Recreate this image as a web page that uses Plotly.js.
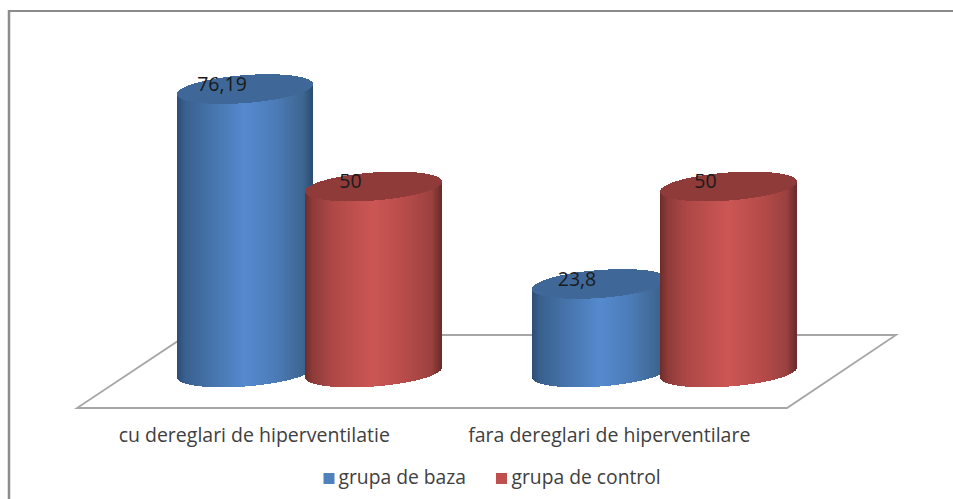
<!DOCTYPE html>
<html><head><meta charset="utf-8">
<script src="https://cdn.plot.ly/plotly-3.0.1.min.js"></script>
<style>html,body{margin:0;padding:0;background:#fff}#c{width:953px;height:499px}</style>
</head><body><div id="c"></div>
<script>
// Data
const categories = ["cu dereglari de hiperventilatie", "fara dereglari de hiperventilare"];
const grupaDeBaza = [76.19, 23.8];
const grupaDeControl = [50, 50];
const labelsBaza = ["76,19", "23,8"];
const labelsControl = ["50", "50"];
const seriesNames = ["grupa de baza", "grupa de control"];

// Geometry (pixels per unit of the axes)
const W = 953, H = 499, axisPx = 412, pxY = 3.72, zeroPx = 372.5;
const pxX = 355, cat0Px = 309.25;
const yRange = [(zeroPx - H) / pxY, zeroPx / pxY];
const xRange = [-cat0Px / pxX, (W - cat0Px) / pxX];
const fx = p => (p - cat0Px) / pxX, fy = p => (zeroPx - p) / pxY;
const halfGap = 64.25 / pxX;      // cylinder centre offset from category centre
const radius = 68 / pxX;          // cylinder half width
const capB = 14 / pxY, capS = 5 / pxY;  // ellipse half height and tilt
const N = 136;

function mix(stops, t) {
  for (let i = 1; i < stops.length; i++) {
    if (t <= stops[i][0]) {
      const a = stops[i - 1], b = stops[i], f = (t - a[0]) / (b[0] - a[0]);
      const c = [1, 2, 3].map(k => Math.round(a[k] + (b[k] - a[k]) * f));
      return `rgb(${c[0]},${c[1]},${c[2]})`;
    }
  }
  const l = stops[stops.length - 1];
  return `rgb(${l[1]},${l[2]},${l[3]})`;
}
const blueStops = [[0,44,77,117],[0.06,57,96,143],[0.25,70,115,170],[0.5,85,138,207],[0.72,76,124,184],[0.93,61,101,144],[1,43,74,112]];
const redStops = [[0,110,44,42],[0.06,143,60,58],[0.2,173,72,70],[0.5,204,86,84],[0.75,181,75,73],[0.93,155,65,63],[1,108,44,42]];

function cylinder(values, dir) {
  const body = {x: [], y: [], base: []};
  const cap = {x: [], y: [], base: []};
  values.forEach((v, i) => {
    for (let j = 0; j < N; j++) {
      const t = (j + 0.5) / N, u = 2 * t - 1;
      const root = Math.sqrt(1 - u * u);
      const tilt = u * capS;                 // right side sits higher
      const lower = tilt - capB * root;
      const x = i + dir * halfGap + u * radius;
      body.x.push(x); body.base.push(lower); body.y.push(v + tilt - lower);
      cap.x.push(x); cap.base.push(v + lower); cap.y.push(2 * capB * root);
    }
  });
  return {body, cap};
}
const sliceW = 2 * radius / N * 1.02;
function traces(values, dir, stops, capColor) {
  const c = cylinder(values, dir);
  const colors = c.body.x.map((_, k) => mix(stops, ((k % N) + 0.5) / N));
  return [
    {type: 'bar', x: c.body.x, y: c.body.y, base: c.body.base, width: sliceW,
     marker: {color: colors, line: {width: 0}}, showlegend: false, hoverinfo: 'skip'},
    {type: 'bar', x: c.cap.x, y: c.cap.y, base: c.cap.base, width: sliceW,
     marker: {color: capColor, line: {width: 0}}, showlegend: false, hoverinfo: 'skip'}
  ];
}
function labelTrace(values, dir, labels) {
  return {type: 'scatter', mode: 'text', x: values.map((_, i) => i + dir * halfGap - 23 / pxX),
    y: values.map(v => v + 0.8), text: labels, textposition: 'middle center', cliponaxis: false,
    textfont: {family: 'Open Sans, sans-serif', size: 19.5, color: '#1a1a1a'},
    showlegend: false, hoverinfo: 'skip'};
}
function legendKey(name, color, keyPx) {
  return {type: 'scatter', mode: 'markers', x: [fx(keyPx)], y: [fy(478.5)], name, cliponaxis: false,
    marker: {symbol: 'square', size: 11, color, line: {width: 0}},
    showlegend: false, hoverinfo: 'skip'};
}
function legendText(name, textPx) {
  return {type: 'scatter', mode: 'text', x: [fx(textPx)], y: [fy(479.5)], text: [name], name,
    textposition: 'middle right', cliponaxis: false,
    textfont: {family: 'Open Sans, sans-serif', size: 19.3, color: '#404040'},
    showlegend: false, hoverinfo: 'skip'};
}
const data = [
  ...traces(grupaDeBaza, -1, blueStops, '#3f6898'),
  ...traces(grupaDeControl, 1, redStops, '#8e3b39'),
  labelTrace(grupaDeBaza, -1, labelsBaza),
  labelTrace(grupaDeControl, 1, labelsControl),
  legendKey(seriesNames[0], '#4f81bd', 329),
  legendText(seriesNames[0], 338.5),
  legendKey(seriesNames[1], '#c0504d', 501.5),
  legendText(seriesNames[1], 511.5)
];
// floor: parallelogram, expressed in axis units
const floorPath = `M${fx(77)},${fy(408)} L${fx(787)},${fy(408)} L${fx(896)},${fy(335)} L${fx(187)},${fy(335)} Z`;
const layout = {
  width: W, height: H, margin: {l: 0, r: 0, t: 0, b: 0},
  paper_bgcolor: '#fff', plot_bgcolor: 'rgba(0,0,0,0)', barmode: 'overlay', bargap: 0, showlegend: false,
  xaxis: {range: xRange, anchor: 'free', position: (H - axisPx) / H,
    showgrid: false, zeroline: false, showline: false, ticks: '',
    tickmode: 'array', tickvals: categories.map((_, i) => i - 55 / pxX), ticktext: categories,
    ticklabelstandoff: 9,
    tickfont: {family: 'Open Sans, sans-serif', size: 19.5, color: '#404040'}},
  yaxis: {range: yRange, showgrid: false, zeroline: false, showline: false, showticklabels: false, ticks: ''},
  shapes: [
    {type: 'path', path: floorPath, layer: 'below', line: {color: '#a6a6a6', width: 1.8}},
    {type: 'line', xref: 'paper', yref: 'paper', x0: 9 / W, x1: 9 / W, y0: 1 - 10 / H, y1: 0, line: {color: '#8c8c8c', width: 2.5}},
    {type: 'line', xref: 'paper', yref: 'paper', x0: 8 / W, x1: 1, y0: 1 - 11 / H, y1: 1 - 11 / H, line: {color: '#8c8c8c', width: 2}}
  ]
};
Plotly.newPlot('c', data, layout, {displayModeBar: false, staticPlot: true});
</script></body></html>
